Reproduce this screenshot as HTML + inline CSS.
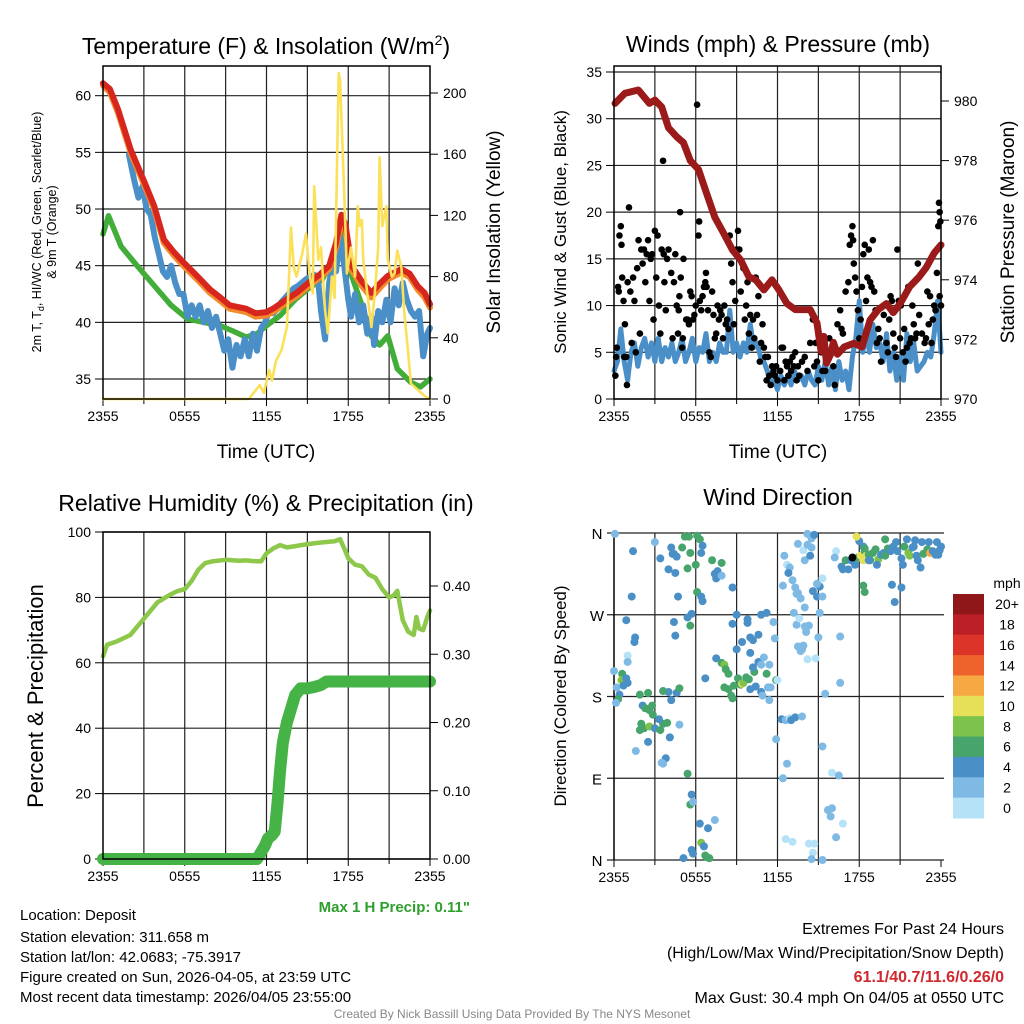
<!DOCTYPE html>
<html><head><meta charset="utf-8"><style>
html,body{margin:0;padding:0;background:#fff;}
svg{display:block;font-family:"Liberation Sans",Arial,sans-serif;}
</style></head><body>
<svg id="chart" width="1024" height="1024" viewBox="0 0 1024 1024" xmlns="http://www.w3.org/2000/svg">
<g id="bg"></g>
<text x="266" y="54" font-size="23" text-anchor="middle">Temperature (F) &amp; Insolation (W/m<tspan dy="-9" font-size="14">2</tspan><tspan dy="9">)</tspan></text>
<text x="778" y="52" font-size="23" text-anchor="middle">Winds (mph) &amp; Pressure (mb)</text>
<text x="266" y="511" font-size="23" text-anchor="middle">Relative Humidity (%) &amp; Precipitation (in)</text>
<text x="778" y="505" font-size="23" text-anchor="middle">Wind Direction</text>

<text transform="translate(41,232) rotate(-90)" font-size="12.5" text-anchor="middle">2m T, T<tspan dy="3" font-size="9">d</tspan><tspan dy="-3">, HI/WC (Red, Green, Scarlet/Blue)</tspan></text>
<text transform="translate(56,232) rotate(-90)" font-size="12.5" text-anchor="middle">&amp; 9m T (Orange)</text>
<text transform="translate(500,232) rotate(-90)" font-size="19" text-anchor="middle">Solar Insolation (Yellow)</text>
<text transform="translate(566,232) rotate(-90)" font-size="17" text-anchor="middle">Sonic Wind &amp; Gust (Blue, Black)</text>
<text transform="translate(1014,232) rotate(-90)" font-size="19" text-anchor="middle">Station Pressure (Maroon)</text>
<text transform="translate(43,696) rotate(-90)" font-size="22" text-anchor="middle">Percent &amp; Precipitation</text>
<text transform="translate(566,696) rotate(-90)" font-size="17" text-anchor="middle">Direction (Colored By Speed)</text>
<text x="266" y="458" font-size="19" text-anchor="middle">Time (UTC)</text>
<text x="778" y="458" font-size="19" text-anchor="middle">Time (UTC)</text>

<text x="470" y="912" font-size="15" font-weight="bold" fill="#2e9e2e" text-anchor="end">Max 1 H Precip: 0.11"</text>
<g font-size="15">
<text x="20" y="920">Location: Deposit</text>
<text x="20" y="942">Station elevation: 311.658 m</text>
<text x="20" y="962">Station lat/lon: 42.0683; -75.3917</text>
<text x="20" y="982">Figure created on Sun, 2026-04-05, at 23:59 UTC</text>
<text x="20" y="1002">Most recent data timestamp: 2026/04/05 23:55:00</text>
</g>
<g font-size="16" text-anchor="end">
<text x="1004" y="934">Extremes For Past 24 Hours</text>
<text x="1004" y="958">(High/Low/Max Wind/Precipitation/Snow Depth)</text>
<text x="1004" y="982" fill="#d0282e" font-weight="bold">61.1/40.7/11.6/0.26/0</text>
<text x="1004" y="1003">Max Gust: 30.4 mph On 04/05 at 0550 UTC</text>
</g>
<text x="512" y="1018" font-size="12" fill="#888" text-anchor="middle">Created By Nick Bassill Using Data Provided By The NYS Mesonet</text>
<g id="plots"></g>
</svg>
<script>
// ---------- DATA ----------
var xTickLabels = ["2355","0555","1155","1755","2355"];
var tempTicks = [35,40,45,50,55,60];
var solarTicks = [0,40,80,120,160,200];
var windTicks = [0,5,10,15,20,25,30,35];
var presTicks = [970,972,974,976,978,980];
var rhTicks = [0,20,40,60,80,100];
var precipTicks = [0,0.1,0.2,0.3,0.4];
var precipTickLabels = ["0.00","0.10","0.20","0.30","0.40"];
var dirTickLabels = ["N","E","S","W","N"];
var speedBinLabels = ["0","2","4","6","8","10","12","14","16","18","20+"];
var speedBinColors = ["#b5e2f7","#7fbae4","#4a8fc6","#47a56c","#7dc24a","#e5e058","#f6a843","#ee632b","#dc3428","#bd1f27","#8f1719"];

var redHours = [0,0.5,1.1,2.05,3,3.75,4.47,5.2,5.9,6.9,7.86,8.6,9.3,10.5,11.2,12,12.6,13.2,14.2,15.1,15.9,16.6,17.1,17.5,17.8,18.25,19,19.7,20.3,20.9,21.9,22.5,23.1,23.6,24];
var redTemps = [61.1,60.6,58.8,55.2,52.5,50.3,47.3,46.2,45.3,44.1,42.9,42.2,41.5,41.2,40.8,40.9,41.3,41.8,42.6,43.5,44.2,45.0,47.0,49.5,48.6,45.0,43.6,42.6,43.4,44.1,44.7,44.3,43.2,42.6,41.6];
var orangeTemps = [60.9,60.3,58.5,54.9,52.2,50.0,47.0,45.9,45.0,43.8,42.6,41.9,41.2,40.9,40.5,40.6,41.0,41.5,42.3,43.2,43.9,44.7,46.6,49.0,48.1,44.6,43.2,42.2,43.0,43.8,44.4,44.0,42.9,42.2,41.3];
var greenHours = [0,0.4,1.33,2.5,4.0,5.0,6.2,7.4,8.6,9.6,10.5,11.3,12,13,14.1,15.1,16.1,16.8,17.5,17.9,18.25,19.0,19.7,20.3,20.9,21.6,22.1,22.6,23.3,24];
var greenTemps = [47.8,49.4,46.7,45.0,42.9,41.5,40.3,40.0,39.7,39.2,38.7,39.0,39.7,40.6,42.0,43.0,43.8,45.5,48.2,46.5,44.1,41.5,38.8,38.0,38.8,35.9,35.3,34.7,34.3,35.0];
var blueHours = [1.9,2.3,2.6,2.9,3.2,3.5,3.8,4.1,4.4,4.7,5.0,5.3,5.6,5.9,6.2,6.5,6.8,7.1,7.4,7.7,8.0,8.3,8.6,8.9,9.2,9.5,9.8,10.1,10.4,10.7,11.0,11.3,11.6,11.9,12.2,12.5,12.8,13.1,13.4,13.7,14.0,14.3,14.6,14.9,15.2,15.5,15.8,16.0,16.3,16.6,16.9,17.1,17.4,17.7,18.0,18.2,18.5,18.8,19.1,19.4,19.7,19.9,20.2,20.5,20.8,21.1,21.4,21.7,22.0,22.3,22.6,22.9,23.2,23.5,23.8,24.0];
var blueTemps = [54.8,52.5,51,52,50,49.5,47.5,46,44.5,44,45,43.5,42.5,42.5,40.5,41.5,40.5,41.5,40,41,39.5,40.5,39,37.5,38.5,36,38,37,38.5,37,39,37.5,39.5,40,41,40.8,41.2,41.8,42.2,42.6,43,43.2,43.5,43.8,44,44.2,43.5,41,38.5,43.5,45.5,44.5,47.5,45,42,40.5,42.5,40,41.5,39,40.5,38,41,40,42,40,43,41.5,43.5,42,41,40.5,41,37,39,39.5];
var solarHours = [0,10.7,11.5,11.8,12.2,12.4,12.7,13.1,13.5,13.8,14.0,14.2,14.6,14.9,15.2,15.4,15.5,15.8,16.0,16.3,16.5,16.8,17.0,17.3,17.4,17.7,17.9,18.2,18.5,18.7,18.85,19.0,19.1,19.4,19.7,19.95,20.2,20.3,20.5,20.8,20.9,21.2,21.4,21.6,21.9,22.1,22.4,22.6,23.1,23.6,24];
var solarValues = [0,0,9,4,19,12,25,32,47,112,86,80,94,108,79,69,139,91,99,58,43,80,66,213,208,135,82,99,80,126,113,117,91,69,47,69,99,158,113,126,91,80,82,97,86,58,30,10,6,2,0];

var presHours = [0.07,0.8,1.78,2.6,3,3.5,4,4.6,5.1,5.6,6.2,6.8,7.4,8,8.7,9.3,9.9,10.4,11,11.6,12.1,12.7,13.3,13.9,14.4,14.9,15.2,15.4,15.6,15.9,16.1,16.4,16.9,17.6,18.2,18.8,19.4,20,20.5,21,21.7,22.4,22.9,23.5,24];
var presValues = [979.92,980.26,980.37,979.92,980.03,979.8,979.1,978.8,978.6,978.0,977.7,976.9,976.1,975.6,975.0,974.66,974.1,974.0,973.66,974.0,973.66,973.2,973.0,973.0,973.0,972.55,971.6,972.1,971.2,971.5,971.9,971.5,971.75,971.87,971.75,972.65,973.0,973.2,972.9,973.2,973.77,974.1,974.4,974.9,975.17];
var windHours = [0,0.25,0.5,0.75,1,1.25,1.5,1.75,2,2.25,2.5,2.75,3,3.25,3.5,3.75,4,4.25,4.5,4.75,5,5.25,5.5,5.75,6,6.25,6.5,6.75,7,7.25,7.5,7.75,8,8.25,8.5,8.75,9,9.25,9.5,9.75,10,10.25,10.5,10.75,11,11.25,11.5,11.75,12,12.25,12.5,12.75,13,13.25,13.5,13.75,14,14.25,14.5,14.75,15,15.25,15.5,15.75,16,16.25,16.5,16.75,17,17.25,17.5,17.75,18,18.25,18.5,18.75,19,19.25,19.5,19.75,20,20.25,20.5,20.75,21,21.25,21.5,21.75,22,22.25,22.5,22.75,23,23.25,23.5,23.75,24];
var windSpeeds = [3,4,7.5,4,2,5,6,3.5,5.5,6.5,4.5,6,4,6.5,4,5.5,4.5,6,4,5,6.5,4,5,6.5,4,5.5,5,7,4,5,4,6,5,5,9.5,5,6,4.5,6,5,8,5.5,6,4.5,4,3,1.5,2,1,2.5,1.5,2.5,1.5,3,2,2.5,1.5,3,2,1.5,3.5,2,4,1.5,3.5,1,4,2,3,1,4.5,6.5,10.5,5,7,5,8,5.5,6,4,7,3,5,2,4.5,2,7,4,6,3,3.5,4,5,4.5,7,10.5,5];
var gustHours = [0.1,0.15,0.2,0.3,0.35,0.4,0.5,0.55,0.6,0.7,0.75,0.8,0.9,0.95,1,1.1,1.2,1.3,1.4,1.5,1.6,1.7,1.8,1.9,2,2.1,2.2,2.3,2.4,2.5,2.6,2.7,2.8,2.9,3,3.1,3.2,3.3,3.4,3.5,3.6,3.65,3.7,3.8,3.9,4,4.2,4.3,4.4,4.5,4.6,4.7,4.75,4.8,4.85,4.9,5,5.05,5.1,5.3,5.4,5.5,5.6,5.7,5.8,5.9,6,6.1,6.2,6.25,6.3,6.4,6.5,6.6,6.7,6.75,6.8,6.9,7,7.1,7.2,7.3,7.4,7.5,7.6,7.7,7.8,7.9,8,8.1,8.2,8.3,8.4,8.5,8.6,8.7,8.8,8.9,9,9.1,9.2,9.3,9.5,9.6,9.7,9.8,9.9,10,10.1,10.2,10.3,10.4,10.5,10.6,10.7,10.8,10.9,11,11.1,11.2,11.3,11.4,11.5,11.6,11.7,11.8,11.9,12,12.2,12.3,12.4,12.5,12.6,12.7,12.8,12.9,13,13.1,13.2,13.3,13.4,13.5,13.6,13.8,14,14.2,14.4,14.6,14.7,14.8,14.9,15,15.1,15.2,15.3,15.5,15.6,15.8,16,16.1,16.2,16.4,16.6,16.7,16.8,17,17.2,17.3,17.4,17.5,17.55,17.6,17.7,17.8,17.9,18,18.1,18.2,18.3,18.4,18.5,18.6,18.7,18.8,18.9,19,19.1,19.2,19.3,19.4,19.5,19.6,19.8,20,20.1,20.2,20.3,20.4,20.5,20.6,20.7,20.8,20.9,21,21.05,21.2,21.3,21.4,21.5,21.6,21.7,21.8,21.9,22,22.1,22.2,22.3,22.4,22.6,22.8,22.9,23,23.1,23.2,23.3,23.4,23.5,23.6,23.7,23.8,23.85,23.9,23.95,24,23.9];
var gustSpeeds = [2.5,4.5,5.5,12,11.5,17.5,18.5,16.5,13,10.5,4.5,8,4.5,1.5,12.5,20.5,11.5,6,13,10.5,5,14,17,7,16,14.5,16,12.5,15.5,17,10.5,15,15.5,8.5,18,13,17.5,10,7,16,25.5,15.5,12.5,9.5,15,16,13.5,6.5,12.5,15.5,10,7,9.5,11,20,13,5.5,6.5,15,8.5,8.5,8,11.5,11,8.5,9,10,31.5,17.5,19,10.5,9.5,11,12,12.5,13.5,12,9.5,5,4.5,11.5,9,6.5,7,10,8.5,9.5,9,6.5,10,8,8.5,7.5,17.5,14.5,12.5,8,10.5,16,18,16,11.5,14,8.5,10,12.5,7,9,5.5,8.5,6.5,13,9,11,4,6,8,5.5,4.5,2,4.5,2.5,1.5,3.5,3,2.5,3.5,2,3,5.5,5.5,2,4,3.5,2.5,4,3,4.5,3.5,5,2,3.5,2.5,4,4.5,3,6,8.5,3.5,6,4,2,6,5,3,3,4.5,6.5,5,3.5,1.5,8,9.5,7.5,7,11.5,12.5,16.5,17.5,18.5,17,14.5,13,11.5,9.5,6.5,8.5,12,15.5,16.5,10.5,13,16,12.5,12,17,11.5,9.5,6,7.5,6.5,4,9,6,5,8.5,11,10.5,7,5.5,4.5,16,10.5,6.5,10,5,7.5,4,5.5,12,6,6.5,10,8,6.5,7,14.5,9,7,6,6.5,11.5,8,11,6,8.5,10,9.5,13.5,18.5,21,20,19,10,11];

var rhHours = [0,0.3,1,2,3,4,5,5.5,6,6.5,7,7.5,8,9,10,10.5,11,11.6,12,12.5,13,13.5,14,15,16,17,17.4,17.7,18,18.5,19,19.5,20,20.5,21,21.3,21.6,22,22.4,22.8,23,23.2,23.5,23.8,24];
var rhValues = [62,65.5,66.5,68.5,73.5,78.5,81,82,82.5,85,88.5,90.5,91,91.5,91.2,91.3,91.1,91,93.5,95,96,95.3,95.6,96.3,96.8,97.2,97.8,95,92,90,89.5,87,86,82.5,80,80.5,82,73,69.5,68.5,74,70.5,70,74,76];
var precipHours = [0,11.3,11.6,11.9,12.1,12.4,12.6,12.8,13.0,13.2,13.5,13.8,14.1,14.5,15.0,15.5,16.0,16.4,24];
var precipValues = [0,0,0.01,0.02,0.03,0.035,0.04,0.08,0.13,0.17,0.2,0.22,0.24,0.25,0.25,0.252,0.255,0.26,0.26];

var dirHours = [0.07,1.4,1.3,0.9,1.55,1.5,0.0,1.0,1.0,0.2,0.4,0.6,0.55,0.7,1.0,0.9,0.3,0.15,1.9,2.5,2.1,2.3,2.6,2.8,2.85,2.0,2.2,1.9,2.6,3.0,3.4,3.6,3.9,3.3,4.1,2.5,1.6,3.8,3.5,3.6,4.0,3.6,4.2,4.6,4.8,4.8,5.4,5.7,5.6,5.8,6.3,6.9,5.7,5.8,5.1,6.4,6.6,6.7,6.8,7.0,7.4,3.4,3.0,4.2,4.4,4.3,4.6,4.5,4.0,5.0,5.2,5.5,6.1,6.3,6.5,6.4,6.0,5.4,5.6,6.1,6.4,5.7,5.4,5.6,4.5,4.7,4.4,6.5,7.2,7.4,7.5,7.9,7.6,7.9,8.7,9.0,8.7,7.5,6.7,7.9,8.1,8.2,8.4,8.1,8.4,8.6,8.7,8.8,9.1,9.3,9.4,9.5,9.7,9.9,10.3,10.0,10.4,10.8,9.0,9.4,10.0,10.2,10.6,10.0,10.6,10.2,10.8,11.0,11.2,11.4,11.9,11.3,11.4,9.8,9.8,10.8,11.7,11.2,10.9,11.8,12.0,11.5,12.3,11.9,12.6,12.9,12.4,12.5,12.7,12.4,13.1,13.5,12.9,12.8,13.4,13.3,13.7,14.0,13.9,13.5,14.2,14.2,14.5,14.5,14.7,14.4,14.6,14.9,15.1,14.9,15.3,15.1,15.3,14.0,14.3,14.0,14.1,13.9,13.5,13.7,13.8,13.2,13.4,13.6,15.0,14.2,14.8,16.6,16.6,13.0,13.3,13.8,12.7,15.5,16.0,15.3,16.5,16.0,15.9,16.8,16.3,14.7,14.3,14.6,13.1,12.6,14.5,15.3,15.7,16.3,16.2,16.7,16.8,17.2,17.0,17.4,17.6,17.7,17.9,18.1,18.3,18.4,18.3,18.5,18.7,18.8,19.0,19.2,19.4,19.6,19.8,19.9,20.1,20.3,20.5,20.8,21.1,21.2,21.3,21.6,21.7,21.9,22.0,22.2,22.3,22.5,22.7,23.0,23.2,23.4,23.6,23.8,23.9,24.0,23.7,23.1,22.6,22.1,21.5,20.7,19.9,18.0,17.8,18.4,18.3,18.4,18.7,20.4,21.1,20.6,19.3,17.5];
var dirDegrees = [359,340,290,264,245,240,208,225,218,190,182,205,198,192,195,200,177,173,182,184,170,167,165,170,160,150,145,143,147,145,143,150,151,155,135,130,120,112,107,106,185,186,176,184,189,149,95,72,61,64,40,35,11,7,2,19,15,5,3,2,44,332,350,344,337,337,334,316,320,344,356,356,357,353,346,338,325,321,338,295,290,271,267,258,247,290,262,285,330,315,310,327,318,313,300,270,260,222,200,217,215,210,205,190,188,181,178,192,200,193,194,195,201,199,207,188,191,185,232,240,245,242,248,228,218,212,215,223,205,215,198,190,176,265,261,270,262,272,181,244,198,190,155,133,154,156,90,335,325,302,308,294,322,316,293,300,288,330,341,348,359,347,344,354,358,335,296,290,301,304,310,272,290,278,258,257,251,236,235,230,232,272,259,266,245,221,222,246,195,154,157,158,106,183,96,125,93,57,48,40,25,18,18,8,20,23,1,0,55,340,333,323,320,320,330,330,328,325,333,335,345,340,330,335,336,330,338,342,331,336,338,335,343,340,345,340,332,325,345,338,335,344,345,335,330,322,337,342,338,340,336,336,341,345,350,350,350,352,353,350,353,351,356,343,302,295,330,303,300,284,325,333];
var dirSpeeds = [3,4,4,4,4,4,3,1,2,3,4,7,8,4,4,4,7,3,7,7,4,7,7,7,6,6,7,7,8,4,7,6,7,4,4,4,2,4,2,2,4,7,4,4,7,2,7,4,7,2,4,4,4,4,4,8,4,6,6,6,2,4,2,4,4,4,4,4,4,7,6,6,6,6,4,4,6,7,6,6,4,4,4,6,4,4,4,4,6,4,4,6,4,2,4,4,4,4,4,6,8,6,6,6,6,6,6,7,6,6,10,8,6,6,6,4,4,4,4,4,4,4,4,4,4,4,2,2,6,2,6,3,3,4,4,4,2,4,3,2,1,2,4,2,3,1,3,2,1,2,2,3,2,4,2,2,2,2,1,2,2,2,2,2,4,4,4,4,4,2,1,3,2,2,2,2,2,2,2,2,2,3,2,1,3,1,1,2,2,4,4,2,3,3,1,2,2,2,2,1,2,1,1,1,1,1,2,3,2,1,2,4,4,4,7,4,4,4,7,10,4,6,10,10,6,6,6,7,8,4,4,6,6,4,4,4,4,4,6,8,8,4,4,4,4,4,6,6,12,4,4,4,4,4,4,4,4,4,4,4,6,4,10,6,6,6,4,4,4,4,4];

// ---------- RENDER ----------
var NS = "http://www.w3.org/2000/svg";
var plots = document.getElementById("plots");
function mk(tag, attrs, parent){ var e=document.createElementNS(NS,tag); for(var k in attrs) e.setAttribute(k,attrs[k]); (parent||plots).appendChild(e); return e; }
function linScale(d0,d1,r0,r1){ return function(v){ return r0+(v-d0)/(d1-d0)*(r1-r0); }; }

function panelFrame(name, L, R, T, B, grp){
  var xs = linScale(0,24,L,R);
  for (var h=3; h<24; h+=3){
    var gl = mk("line",{x1:xs(h),x2:xs(h),y1:T,y2:B,stroke:"#222","stroke-width":1.2},grp);
    
    
  }
  for (var i=0;i<xTickLabels.length;i++){
    var tx = xs(i*6);
    mk("line",{x1:tx,x2:tx,y1:B,y2:B+7,stroke:"#000","stroke-width":1},grp);
    var t = mk("text",{x:tx,y:B+22,"font-size":14,"text-anchor":"middle"},grp);
    t.textContent = xTickLabels[i];
    
    
  }
  for (var h2=3; h2<24; h2+=6){ mk("line",{x1:xs(h2),x2:xs(h2),y1:B,y2:B+5,stroke:"#000","stroke-width":1},grp); }
  return xs;
}
function hGrid(grp, ys, ticks, L, R, labels, side){
  for (var i=0;i<ticks.length;i++){
    var y = ys(ticks[i]);
    if (side==="left"){
      var gl = mk("line",{x1:L,x2:R,y1:y,y2:y,stroke:"#222","stroke-width":1.2},grp);
      
      
      mk("line",{x1:L-8,x2:L,y1:y,y2:y,stroke:"#000"},grp);
      var t = mk("text",{x:L-12,y:y+5,"font-size":14,"text-anchor":"end"},grp);
      t.textContent = labels ? labels[i] : ticks[i];
      
      
    } else {
      mk("line",{x1:R,x2:R+8,y1:y,y2:y,stroke:"#000"},grp);
      var t2 = mk("text",{x:R+13,y:y+5,"font-size":14,"text-anchor":"start"},grp);
      t2.textContent = labels ? labels[i] : ticks[i];
      
      
    }
  }
}
function poly(grp, xs, ys, hx, vy, color, w, name){
  var pts=[]; for (var i=0;i<hx.length;i++) pts.push(xs(hx[i]).toFixed(1)+","+ys(vy[i]).toFixed(1));
  var p = mk("polyline",{points:pts.join(" "),fill:"none",stroke:color,"stroke-width":w,"stroke-linejoin":"round","stroke-linecap":"round"},grp);
  
  
  return p;
}
function box(grp,L,R,T,B,name){
  var r = mk("rect",{x:L,y:T,width:R-L,height:B-T,fill:"none",stroke:"#000","stroke-width":1.5},grp);
  
  
}

// Panel 1: temperature
(function(){
  var L=103,R=430,T=66,B=399;
  var g = mk("g",{});  
  var xs = panelFrame("temp",L,R,T,B,g);
  var ys = linScale(35,60,379,95.7);
  var ysS = linScale(0,200,399,93);
  hGrid(g, ys, tempTicks, L, R, null, "left");
  hGrid(g, ysS, solarTicks, L, R, null, "right");
  poly(g,xs,ys,greenHours,greenTemps,"#43ad3a",5.5,"dewpoint-line");
  poly(g,xs,ys,blueHours,blueTemps,"#4a8fc8",6,"heat-index-windchill-line");
  poly(g,xs,ys,redHours,orangeTemps,"#f28a2c",6,"temp-9m-line");
  poly(g,xs,ys,redHours,redTemps,"#d7261e",6,"temp-2m-line");
  poly(g,xs,ysS,solarHours,solarValues,"#fbe05a",2.6,"solar-insolation-line");
  box(g,L,R,T,B,"temperature-plot-frame");
})();

// Panel 2: winds & pressure
(function(){
  var L=614,R=941,T=66,B=399;
  var g = mk("g",{});  
  var xs = panelFrame("wind",L,R,T,B,g);
  var ys = linScale(0,35,399,72);
  var ysP = linScale(970,980,399,101);
  hGrid(g, ys, windTicks, L, R, null, "left");
  hGrid(g, ysP, presTicks, L, R, null, "right");
  poly(g,xs,ys,windHours,windSpeeds,"#4a8fc8",5,"sonic-wind-line");
  for (var i=0;i<gustHours.length;i++){
    var c = mk("circle",{cx:xs(gustHours[i]),cy:ys(gustSpeeds[i]),r:3.3,fill:"#000"},g);
    
    
  }
  poly(g,xs,ysP,presHours,presValues,"#9b1a1a",7,"pressure-line");
  box(g,L,R,T,B,"wind-plot-frame");
})();

// Panel 3: RH & precipitation
(function(){
  var L=103,R=430,T=532,B=859;
  var g = mk("g",{});  
  var xs = panelFrame("rh",L,R,T,B,g);
  var ys = linScale(0,100,859,532);
  var ysP = linScale(0,0.4,859,586);
  hGrid(g, ys, rhTicks, L, R, null, "left");
  hGrid(g, ysP, precipTicks, L, R, precipTickLabels, "right");
  poly(g,xs,ys,rhHours,rhValues,"#8dc84b",4.5,"relative-humidity-line");
  poly(g,xs,ysP,precipHours,precipValues,"#46b347",12,"precipitation-line");
  box(g,L,R,T,B,"humidity-plot-frame");
})();

// Panel 4: wind direction
(function(){
  var L=614,R=941,T=533,B=860;
  var g = mk("g",{});  
  var xs = panelFrame("dir",L,R,T,B,g);
  var ys = linScale(0,360,860,533);
  for (var i=0;i<dirTickLabels.length;i++){
    var y = ys(i*90);
    var gl = mk("line",{x1:L-7,x2:R+3,y1:y,y2:y,stroke:"#222","stroke-width":1.2},g);
    
    
    var t = mk("text",{x:L-17,y:y+6,"font-size":15,"text-anchor":"middle"},g);
    t.textContent = dirTickLabels[i];
    
    
  }
  mk("line",{x1:L,x2:L,y1:T,y2:B,stroke:"#000","stroke-width":1.5},g);
  for (var j=0;j<dirHours.length;j++){
    var bin = Math.min(10, Math.floor(dirSpeeds[j]/2));
    var c = mk("circle",{cx:xs(dirHours[j]),cy:ys(dirDegrees[j]),r:4,fill:speedBinColors[bin]},g);
    
    
  }
  var cb = mk("g",{},g);  
  var cx=953, cw=31, top=594, bh=(818-594)/speedBinColors.length;
  var ttl = mk("text",{x:1007,y:588,"font-size":14,"text-anchor":"middle"},cb);
  ttl.textContent = "mph";
  
  
  for (var k=0;k<speedBinColors.length;k++){
    var idx = speedBinColors.length-1-k;
    var r = mk("rect",{x:cx,y:top+k*bh,width:cw,height:bh+0.5,fill:speedBinColors[idx]},cb);
    
    
    var lt = mk("text",{x:1007,y:top+k*bh+bh/2+5,"font-size":14,"text-anchor":"middle"},cb);
    lt.textContent = speedBinLabels[idx];
    
    
  }
})();
</script>
</body></html>
